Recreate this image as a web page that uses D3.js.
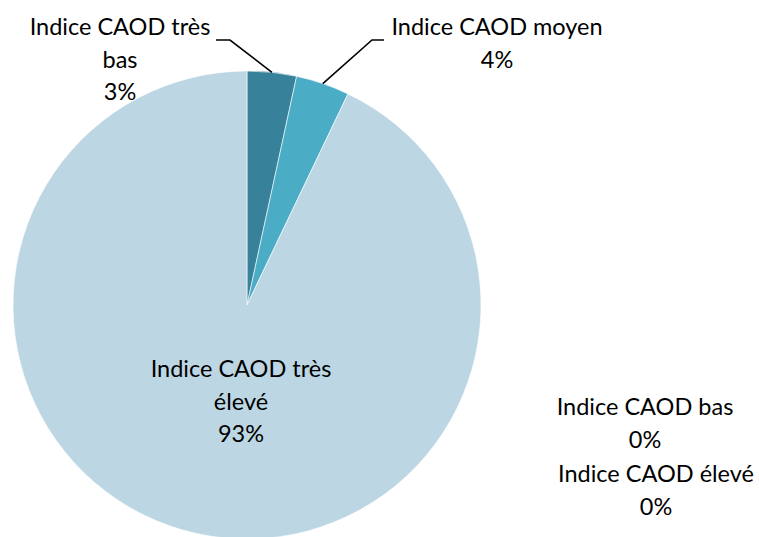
<!DOCTYPE html>
<html>
<head>
<meta charset="utf-8">
<script src="https://cdn.jsdelivr.net/npm/d3@7"></script>
<style>
  body { margin: 0; background: #fff; }
  svg { display: block; font-family: "Lato", "Noto Sans", sans-serif; }
</style>
</head>
<body>
<div id="chart"></div>
<script>
// data
const categories = ["Indice CAOD très bas", "Indice CAOD bas", "Indice CAOD moyen", "Indice CAOD élevé", "Indice CAOD très élevé"];
const values = [3.4, 0, 3.7, 0, 92.9];
const colors = ["#37819a", "#4bacc6", "#4bacc6", "#8fc6d8", "#bcd7e3"];

// label layout: lines of text, centre x, first baseline, optional leader elbow
const labels = [
  { lines: ["Indice CAOD très", "bas", "3%"], x: 120, y: 35, elbow: [[230, 40], [216, 40]] },
  { lines: ["Indice CAOD bas", "0%"], x: 645, y: 415 },
  { lines: ["Indice CAOD moyen", "4%"], x: 497, y: 35, elbow: [[372, 40], [384, 40]] },
  { lines: ["Indice CAOD élevé", "0%"], x: 656, y: 482 },
  { lines: ["Indice CAOD très", "élevé", "93%"], x: 241, y: 377 }
];

const width = 759, height = 537;
const cx = 247, cy = 305, radius = 234;
const lineStep = 32.5;

const svg = d3.select("#chart")
  .append("svg")
  .attr("width", width)
  .attr("height", height);

const g = svg.append("g")
  .attr("transform", "translate(" + cx + "," + cy + ")");

const pie = d3.pie().sort(null).value(d => d);
const arcs = pie(values);
const arc = d3.arc().innerRadius(0).outerRadius(radius);

g.selectAll("path.slice")
  .data(arcs)
  .enter()
  .append("path")
  .attr("class", "slice")
  .attr("d", arc)
  .attr("fill", (d, i) => colors[i])
  .attr("stroke", "#fff")
  .attr("stroke-width", d => d.value > 0 ? 0.6 : 0);

// leader lines start on the outer edge at the slice mid-angle
arcs.forEach((d, i) => {
  const lab = labels[i];
  if (!lab.elbow) return;
  const a = (d.startAngle + d.endAngle) / 2;
  const start = [cx + radius * Math.sin(a), cy - radius * Math.cos(a)];
  svg.append("polyline")
    .attr("points", [start].concat(lab.elbow).map(p => p.join(",")).join(" "))
    .attr("fill", "none")
    .attr("stroke", "#000")
    .attr("stroke-width", 1.6);
});

labels.forEach(lab => {
  const t = svg.append("text")
    .attr("text-anchor", "middle")
    .attr("font-size", 23.5)
    .attr("fill", "#000");
  lab.lines.forEach((line, j) => {
    t.append("tspan")
      .attr("x", lab.x)
      .attr("y", lab.y + j * lineStep)
      .text(line);
  });
});
</script>
</body>
</html>
